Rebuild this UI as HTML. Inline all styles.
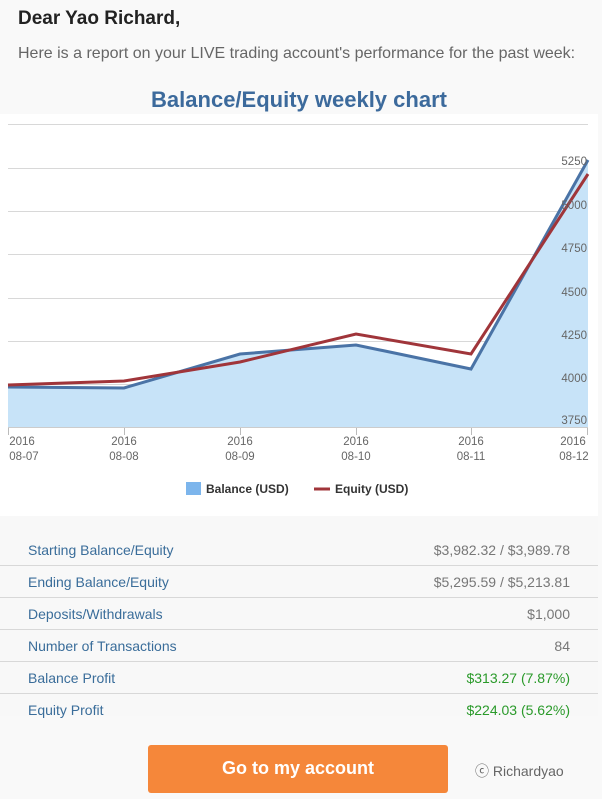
<!DOCTYPE html>
<html><head><meta charset="utf-8"><style>
*{margin:0;padding:0;box-sizing:border-box}
body{width:602px;height:799px;background:#f9f9f9;font-family:"Liberation Sans",Arial,sans-serif;position:relative;overflow:hidden}
.a{position:absolute}
.row{position:absolute;left:0;width:598px;height:32px;border-bottom:1px solid #d8d8d8;font-size:14px}
.row .l{position:absolute;left:28px;top:8px;color:#3a6d9a}
.row .r{position:absolute;right:28px;top:8px;color:#777}
.g{color:#2a9a2a!important}
</style></head><body>
<div class="a" style="left:18px;top:8px;font-size:19px;font-weight:bold;color:#222">Dear Yao Richard,</div>
<div class="a" style="left:18px;top:45px;font-size:16px;color:#666">Here is a report on your LIVE trading account's performance for the past week:</div>
<div class="a" style="left:0;width:598px;top:87px;text-align:center;font-size:22px;font-weight:bold;color:#3c6a9c">Balance/Equity weekly chart</div>
<div class="a" style="left:0;top:114px;width:598px;height:402px;background:#fff"></div>
<svg class="a" style="left:0;top:0" width="602" height="520">
<g stroke="#d8d8d8" stroke-width="1">
<line x1="8" x2="588" y1="124.5" y2="124.5"/><line x1="8" x2="588" y1="168.5" y2="168.5"/><line x1="8" x2="588" y1="211.5" y2="211.5"/><line x1="8" x2="588" y1="254.5" y2="254.5"/><line x1="8" x2="588" y1="298.5" y2="298.5"/><line x1="8" x2="588" y1="341.5" y2="341.5"/><line x1="8" x2="588" y1="384.5" y2="384.5"/>
</g>
<polygon points="8,387 124,388 240,354 356,345 471,369 588,160 588,427 8,427" fill="#c7e3f8"/>
<polyline points="8,387 124,388 240,354 356,345 471,369 588,160" fill="none" stroke="#4a73a6" stroke-width="3"/>
<polyline points="8,385 124,381 240,362 356,334 471,354 588,174" fill="none" stroke="#a0353a" stroke-width="3"/>
<line x1="8" x2="588" y1="427.5" y2="427.5" stroke="#ccc"/>
<g stroke="#bbb"><line x1="8.5" x2="8.5" y1="428" y2="435"/><line x1="124.5" x2="124.5" y1="428" y2="435"/><line x1="240.5" x2="240.5" y1="428" y2="435"/><line x1="356.5" x2="356.5" y1="428" y2="435"/><line x1="471.5" x2="471.5" y1="428" y2="435"/><line x1="587.5" x2="587.5" y1="428" y2="435"/></g>
<g font-size="11.5" fill="#666" text-anchor="end">
<text x="587" y="165">5250</text><text x="587" y="209">5000</text><text x="587" y="252">4750</text><text x="587" y="296">4500</text><text x="587" y="339">4250</text><text x="587" y="382">4000</text><text x="587" y="424">3750</text>
</g>
<g font-size="11.5" fill="#666" text-anchor="middle">
<text x="22" y="445">2016</text><text x="24" y="460">08-07</text>
<text x="124" y="445">2016</text><text x="124" y="460">08-08</text>
<text x="240" y="445">2016</text><text x="240" y="460">08-09</text>
<text x="356" y="445">2016</text><text x="356" y="460">08-10</text>
<text x="471" y="445">2016</text><text x="471" y="460">08-11</text>
<text x="573" y="445">2016</text><text x="574" y="460">08-12</text>
</g>
<rect x="186" y="482" width="15" height="13" fill="#7cb5ec"/>
<text x="206" y="493" font-size="12" font-weight="bold" fill="#333">Balance (USD)</text>
<line x1="314" x2="330" y1="489" y2="489" stroke="#a0353a" stroke-width="3"/>
<text x="335" y="493" font-size="12" font-weight="bold" fill="#333">Equity (USD)</text>
</svg>
<div class="a" style="left:0;top:516px;width:598px;height:200px;background:#f8f8f8"></div>
<div class="row" style="top:534px"><span class="l">Starting Balance/Equity</span><span class="r">$3,982.32 / $3,989.78</span></div>
<div class="row" style="top:566px"><span class="l">Ending Balance/Equity</span><span class="r">$5,295.59 / $5,213.81</span></div>
<div class="row" style="top:598px"><span class="l">Deposits/Withdrawals</span><span class="r">$1,000</span></div>
<div class="row" style="top:630px"><span class="l">Number of Transactions</span><span class="r">84</span></div>
<div class="row" style="top:662px"><span class="l">Balance Profit</span><span class="r g">$313.27 (7.87%)</span></div>
<div class="row" style="top:694px;border-bottom:none"><span class="l">Equity Profit</span><span class="r g">$224.03 (5.62%)</span></div>
<div class="a" style="left:148px;top:745px;width:300px;height:48px;background:#f5873a;border-radius:3px;color:#fff;font-weight:bold;font-size:18px;text-align:center;line-height:46px">Go to my account</div>
<div class="a" style="left:475px;top:761px;font-size:14px;color:#666">ⓒ Richardyao</div>
</body></html>
